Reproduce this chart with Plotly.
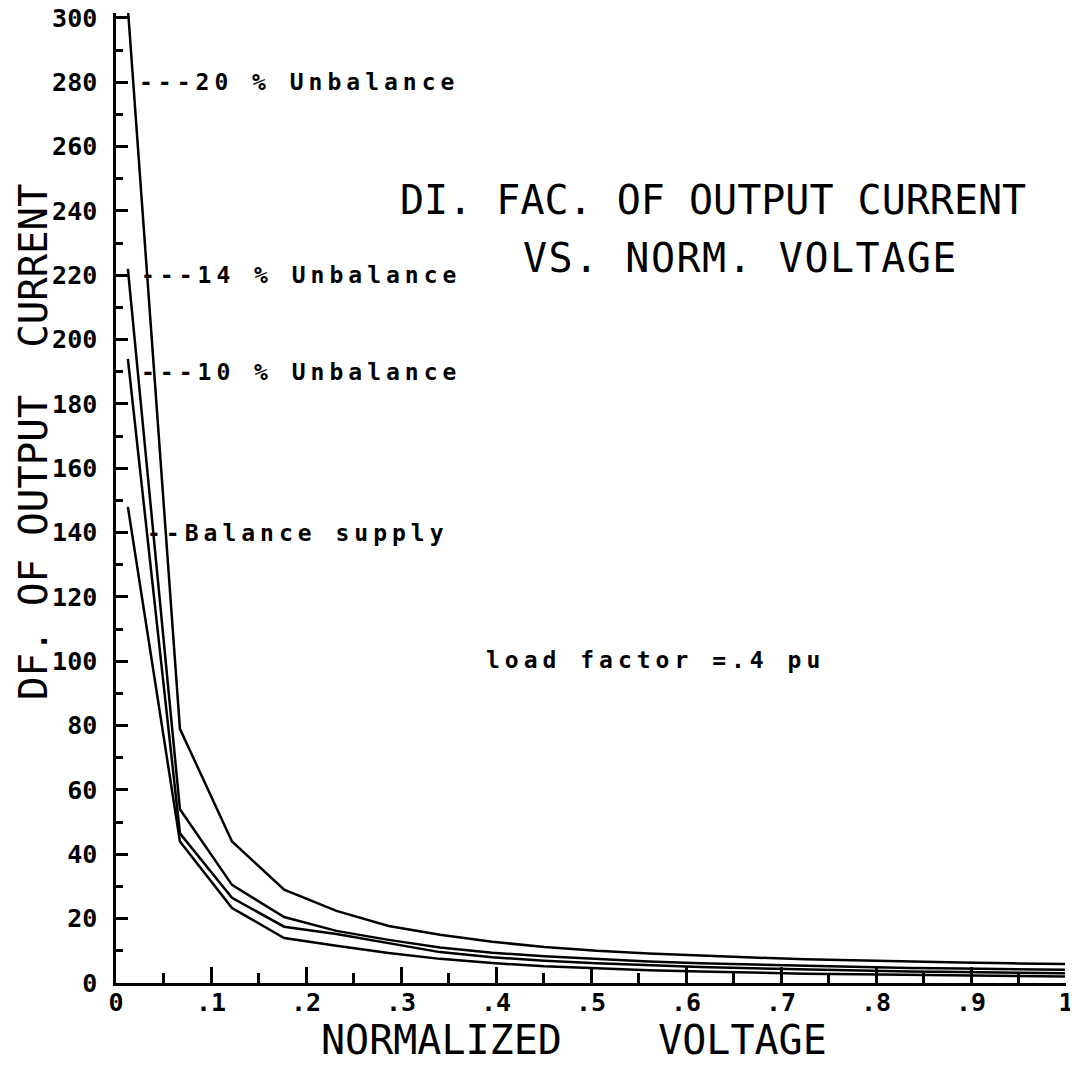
import plotly.graph_objects as go

# Normalized voltage sample points
voltage = [0.0125, 0.0673, 0.1221, 0.177, 0.232, 0.287, 0.341, 0.396, 0.451, 0.506,
           0.561, 0.615, 0.670, 0.725, 0.780, 0.835, 0.889, 0.944, 0.999]

# Distortion factor of output current
unbal_20 = [303, 79, 44, 29, 22.4, 17.7, 15, 12.8, 11.2, 10, 9.2, 8.5, 7.9, 7.4, 7.0, 6.7, 6.4, 6.1, 5.9]
unbal_14 = [222, 54, 30.5, 20.5, 16.2, 13.4, 11, 9.4, 8.3, 7.4, 6.7, 6.1, 5.7, 5.3, 5.0, 4.7, 4.5, 4.3, 4.1]
unbal_10 = [194, 46.5, 26.5, 17.5, 15.2, 12.4, 9.6, 8.0, 6.9, 6.1, 5.5, 5.0, 4.6, 4.2, 3.9, 3.6, 3.4, 3.2, 3.0]
balance = [148, 44, 23.3, 14, 11.6, 9.3, 7.5, 6.2, 5.2, 4.5, 4.0, 3.6, 3.2, 2.9, 2.7, 2.5, 2.3, 2.1, 2.0]

series_names = ["20 % Unbalance", "14 % Unbalance", "10 % Unbalance", "Balance supply"]
series_values = [unbal_20, unbal_14, unbal_10, balance]

label_texts = ["---20 % Unbalance", "---14 % Unbalance", "---10 % Unbalance", "--Balance supply"]
label_y = [280, 220, 190, 140]
label_x = [0.022, 0.024, 0.024, 0.031]

x_tickvals = [0, 0.1, 0.2, 0.3, 0.4, 0.5, 0.6, 0.7, 0.8, 0.9, 1.0]
x_ticktext = ["0", ".1", ".2", ".3", ".4", ".5", ".6", ".7", ".8", ".9", "1"]
y_tickvals = list(range(0, 301, 20))

MONO = "DejaVu Sans Mono"

fig = go.Figure()
for name, vals in zip(series_names, series_values):
    fig.add_trace(go.Scatter(x=voltage, y=vals, mode="lines", name=name,
                             line=dict(color="black", width=2.5), showlegend=False,
                             cliponaxis=True))

annotations = []
for txt, xv, yv in zip(label_texts, label_x, label_y):
    annotations.append(dict(x=xv, y=yv, xref="x", yref="y", xanchor="left", yanchor="middle",
                            text='<span style="letter-spacing:5px">' + txt + '</span>',
                            showarrow=False, font=dict(family=MONO, size=23, color="black", weight="bold")))

def px_x(p):
    return (p - 116) / 950

def px_y(p):
    return (983 - p) / 970

annotations += [
    dict(x=px_x(713), y=px_y(200), xref="paper", yref="paper", text="DI. FAC. OF OUTPUT CURRENT",
         showarrow=False, font=dict(family=MONO, size=40, color="black"), xanchor="center", yanchor="middle"),
    dict(x=px_x(740), y=px_y(258), xref="paper", yref="paper",
         text='<span style="letter-spacing:1.5px">VS. NORM. VOLTAGE</span>',
         showarrow=False, font=dict(family=MONO, size=40, color="black"), xanchor="center", yanchor="middle"),
    dict(x=px_x(655), y=px_y(660), xref="paper", yref="paper",
         text='<span style="letter-spacing:5px">load factor =.4 pu</span>',
         showarrow=False, font=dict(family=MONO, size=23, color="black", weight="bold"),
         xanchor="center", yanchor="middle"),
    dict(x=px_x(574), y=px_y(1040), xref="paper", yref="paper",
         text="NORMALIZED\u00a0\u00a0\u00a0\u00a0VOLTAGE",
         showarrow=False, font=dict(family=MONO, size=40, color="black"), xanchor="center", yanchor="middle"),
    dict(x=px_x(33), y=px_y(442), xref="paper", yref="paper",
         text="DF. OF OUTPUT\u00a0\u00a0CURRENT", textangle=-90,
         showarrow=False, font=dict(family=MONO, size=39, color="black"), xanchor="center", yanchor="middle"),
]

# page body adds an 8px offset, so the figure is sized 8px smaller
fig.update_layout(
    width=1070, height=1059,
    margin=dict(l=108, r=12, t=5, b=84),
    paper_bgcolor="white", plot_bgcolor="white",
    annotations=annotations,
    xaxis=dict(range=[0, 1.0], showgrid=False, zeroline=False, showline=True, linecolor="black", linewidth=2.5,
               automargin=False,
               ticks="inside", ticklen=16, tickwidth=2.5, tickcolor="black",
               tickvals=x_tickvals, ticktext=x_ticktext,
               tickfont=dict(family=MONO, size=25, color="black", weight="bold"),
               minor=dict(dtick=0.05, ticks="inside", ticklen=10, tickwidth=2.5, tickcolor="black"),
               ticklabelstandoff=-5, ticklabeloverflow="allow"),
    yaxis=dict(range=[0, 301.5], showgrid=False, zeroline=False, showline=True, linecolor="black", linewidth=2.5,
               automargin=False,
               ticks="inside", ticklen=12, tickwidth=2.5, tickcolor="black",
               tickvals=y_tickvals,
               tickfont=dict(family=MONO, size=25, color="black", weight="bold"),
               minor=dict(dtick=10, ticks="inside", ticklen=7, tickwidth=2.5, tickcolor="black"),
               ticklabelstandoff=11, ticklabeloverflow="allow"),
)

fig.write_html("out.html")
